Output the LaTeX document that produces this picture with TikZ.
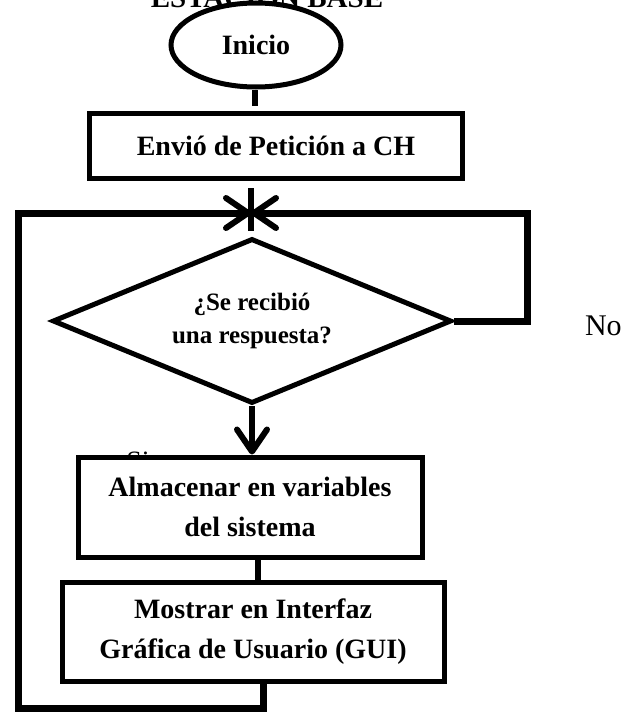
\documentclass[tikz,border=0pt]{standalone}
\usepackage{fontspec}
\setmainfont{Liberation Serif}
\usetikzlibrary{shapes.geometric,arrows.meta}

\begin{document}
\begin{tikzpicture}[x=1pt,y=-1pt,line width=6pt,font=\fontsize{28}{40}\selectfont\bfseries]
\tikzset{caja/.style={draw,fill=white,align=center,inner sep=0pt,line width=5pt},
  flecha/.style={-{Straight Barb[round,length=22pt,width=30pt,line width=6pt]}},
  lazo/.style={line width=7pt}}
\useasboundingbox (0,0) rectangle (623,712);
\node[anchor=base,font=\fontsize{29}{30}\selectfont\bfseries] (titulo) at (267,7) {ESTACION BASE};
\node[caja,ellipse,minimum width=170pt,minimum height=84pt] (inicio) at (256,45) {Inicio};
\node[caja,minimum width=373pt,minimum height=65pt] (envio) at (276,146) {Envió de Petición a CH};
\coordinate (j) at (251,213);
\node[caja,diamond,aspect=2.4,minimum width=399pt,minimum height=165pt,font=\fontsize{25}{33}\selectfont\bfseries] (pregunta) at (252,321) {¿Se recibió\\una respuesta?};
\node[anchor=base west,inner sep=0pt,font=\fontsize{30}{34}\selectfont] (no) at (582,335) {No};
\node[font=\fontsize{28}{34}\selectfont] (si) at (138,461) {Si};
\node[caja,minimum width=344pt,minimum height=100pt] (almacenar) at (250,507) {Almacenar en variables\\del sistema};
\node[caja,minimum width=382pt,minimum height=99pt] (mostrar) at (253,632) {Mostrar en Interfaz\\Gráfica de Usuario (GUI)};
\coordinate (der) at (527,213);
\coordinate (izq) at (18,213);
\coordinate (abajo) at (18,708);
% conectores
\draw[shorten >=5pt] (inicio.south -| 255,0) -- (envio.north -| 255,0);
\draw[shorten <=7pt,shorten >=5pt] (envio.south -| j) -- (pregunta.north -| j);
\draw[lazo,flecha] (pregunta.east) -| (der) -- (j);
\draw[lazo,flecha] (mostrar.south -| 263,0) |- (abajo) -- (izq) -- (j);
\draw[flecha] (pregunta.south) -- (almacenar.north -| pregunta.south);
\draw (almacenar.south -| 258,0) -- (mostrar.north -| 258,0);
\end{tikzpicture}
\end{document}
